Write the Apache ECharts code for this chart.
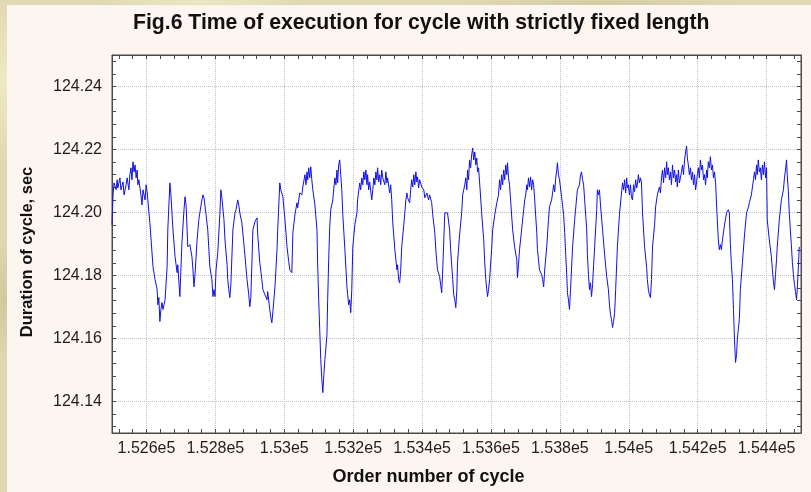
<!DOCTYPE html>
<html>
<head>
<meta charset="utf-8">
<script src="https://cdn.jsdelivr.net/npm/echarts@6/dist/echarts.min.js"></script>
<style>
  html, body { margin: 0; padding: 0; }
  body {
    width: 811px; height: 492px; overflow: hidden; position: relative;
    background-color: #dfd8b2;
    background-image:
      radial-gradient(ellipse 40px 120px at 3px 80px, rgba(255,250,220,0.5), rgba(0,0,0,0) 70%),
      radial-gradient(ellipse 30px 90px at 4px 300px, rgba(190,180,130,0.45), rgba(0,0,0,0) 70%),
      radial-gradient(ellipse 160px 6px at 200px 2px, rgba(250,245,215,0.6), rgba(0,0,0,0) 70%),
      radial-gradient(ellipse 200px 6px at 600px 3px, rgba(195,185,140,0.5), rgba(0,0,0,0) 70%);
  }
  #panel { position: absolute; left: 7px; top: 5px; right: 0; bottom: 0; background: #fdf5ef; }
  #chart { position: absolute; left: 0; top: 0; width: 811px; height: 492px; }
</style>
</head>
<body>
<div id="panel"></div>
<div id="chart"></div>
<script>
// ---- data ----
const cycleNumbers = [
152500,152503,152506,152512,152515,152517,152523,152526,152532,152535,152541,152544,152549,152552,152555,152558,152561,152564,152567,152570,
152573,152575,152578,152584,152587,152590,152596,152599,152602,152604,152610,152619,152625,152631,152633,152636,152639,152642,152645,152648,
152654,152660,152662,152668,152671,152677,152683,152689,152691,152697,152703,152709,152712,152715,152720,152726,152732,152735,152738,152741,
152747,152752,152755,152761,152764,152767,152773,152778,152784,152790,152793,152796,152799,152802,152807,152813,152816,152819,152825,152828,
152834,152836,152839,152842,152845,152851,152857,152860,152865,152868,152871,152877,152883,152889,152892,152897,152900,152903,152909,152915,
152921,152923,152929,152935,152938,152944,152950,152952,152958,152961,152964,152967,152973,152979,152981,152987,152990,152996,153002,153008,
153013,153016,153022,153025,153031,153037,153039,153045,153051,153054,153060,153063,153066,153068,153071,153074,153077,153080,153083,153089,
153095,153097,153100,153103,153106,153109,153112,153115,153118,153124,153126,153129,153132,153135,153141,153144,153147,153150,153153,153155,
153158,153161,153164,153167,153170,153176,153182,153184,153187,153190,153193,153196,153199,153205,153211,153213,153219,153222,153225,153228,
153231,153234,153237,153240,153242,153245,153248,153254,153257,153260,153263,153266,153269,153271,153274,153277,153280,153283,153286,153292,
153295,153298,153300,153306,153309,153312,153315,153321,153327,153329,153332,153335,153338,153341,153347,153350,153353,153356,153358,153364,
153367,153370,153373,153376,153379,153382,153385,153387,153390,153393,153399,153405,153408,153414,153419,153422,153428,153431,153437,153440,
153443,153445,153451,153454,153457,153460,153466,153469,153474,153480,153483,153489,153492,153495,153498,153501,153503,153509,153515,153518,
153524,153527,153530,153532,153535,153538,153541,153544,153547,153550,153553,153556,153559,153561,153564,153567,153573,153579,153582,153585,
153590,153593,153596,153602,153605,153611,153617,153622,153625,153628,153631,153634,153637,153640,153643,153646,153648,153651,153654,153657,
153663,153669,153675,153677,153680,153683,153689,153695,153698,153701,153704,153706,153709,153712,153715,153718,153721,153724,153727,153733,
153735,153741,153747,153750,153753,153756,153762,153767,153770,153776,153779,153782,153785,153788,153791,153793,153796,153799,153805,153811,
153814,153817,153820,153822,153825,153828,153831,153837,153843,153849,153851,153857,153860,153863,153866,153869,153872,153878,153880,153883,
153886,153889,153892,153895,153898,153901,153907,153909,153912,153915,153918,153924,153930,153936,153941,153944,153947,153950,153953,153956,
153959,153962,153967,153973,153979,153982,153985,153988,153991,153994,153996,153999,154002,154005,154008,154011,154014,154017,154020,154023,
154025,154028,154031,154034,154037,154040,154046,154052,154054,154057,154060,154063,154066,154069,154075,154078,154083,154089,154092,154095,
154098,154101,154104,154107,154110,154112,154115,154118,154121,154124,154127,154130,154133,154136,154139,154141,154144,154147,154150,154153,
154156,154159,154162,154165,154168,154170,154173,154176,154179,154182,154185,154188,154191,154194,154197,154199,154202,154205,154208,154211,
154214,154217,154220,154223,154226,154228,154231,154234,154237,154240,154243,154246,154249,154252,154255,154257,154260,154263,154266,154269,
154272,154278,154284,154289,154292,154295,154298,154301,154304,154307,154310,154313,154315,154318,154321,154324,154330,154336,154342,154347,
154350,154356,154359,154362,154365,154368,154371,154373,154376,154379,154382,154385,154388,154391,154394,154397,154400,154402,154408,154414,
154417,154420,154423,154426,154429,154431,154437,154443,154449,154452,154455,154458,154460,154463,154466,154469,154472,154475,154478,154481,
154484,154487,154489,154492,154495
];
const durations = [
124.1961,124.2056,124.2094,124.2072,124.2104,124.2078,124.2110,124.2072,124.2097,124.2056,124.2088,124.2110,124.2072,124.2120,124.2142,124.2104,124.2161,124.2129,124.2151,124.2110,
124.2135,124.2088,124.2104,124.2056,124.2024,124.2072,124.2040,124.2088,124.2066,124.2040,124.1967,124.1828,124.1787,124.1755,124.1707,124.1730,124.1654,124.1692,124.1714,124.1692,
124.1723,124.1828,124.1945,124.2094,124.2056,124.1945,124.1860,124.1809,124.1834,124.1733,124.1904,124.2009,124.2050,124.2024,124.1891,124.1898,124.1860,124.1818,124.1764,124.1803,
124.1913,124.1977,124.1999,124.2040,124.2056,124.2047,124.1993,124.1945,124.1828,124.1787,124.1733,124.1755,124.1733,124.1818,124.1872,124.1993,124.2072,124.2047,124.1977,124.1913,
124.1834,124.1787,124.1755,124.1730,124.1771,124.1945,124.1999,124.2009,124.2040,124.2024,124.1999,124.1967,124.1898,124.1825,124.1787,124.1739,124.1701,124.1730,124.1945,124.1971,
124.1983,124.1929,124.1841,124.1787,124.1755,124.1739,124.1723,124.1749,124.1692,124.1666,124.1650,124.1685,124.1764,124.1882,124.1945,124.2094,124.2072,124.2050,124.1977,124.1891,
124.1844,124.1818,124.1809,124.1936,124.1993,124.2031,124.2015,124.2062,124.2056,124.2081,124.2120,124.2088,124.2129,124.2104,124.2142,124.2110,124.2145,124.2104,124.2072,124.2024,
124.1945,124.1834,124.1723,124.1628,124.1533,124.1470,124.1428,124.1486,124.1533,124.1612,124.1723,124.1850,124.1955,124.2009,124.2040,124.2078,124.2110,124.2088,124.2135,124.2094,
124.2151,124.2167,124.2120,124.2072,124.1993,124.1882,124.1764,124.1739,124.1707,124.1723,124.1682,124.1755,124.1891,124.1961,124.1999,124.2040,124.2094,124.2072,124.2110,124.2088,
124.2129,124.2104,124.2135,124.2088,124.2120,124.2072,124.2097,124.2040,124.2072,124.2110,124.2088,124.2129,124.2104,124.2142,124.2097,124.2120,124.2088,124.2135,124.2110,124.2088,
124.2129,124.2094,124.2110,124.2062,124.2088,124.2040,124.1967,124.1882,124.1818,124.1834,124.1787,124.1777,124.1818,124.1891,124.1961,124.1999,124.2040,124.2062,124.2047,124.2031,
124.2072,124.2104,124.2081,124.2120,124.2088,124.2129,124.2097,124.2113,124.2078,124.2104,124.2081,124.2072,124.2047,124.2062,124.2040,124.2056,124.2031,124.1993,124.1936,124.1882,
124.1841,124.1818,124.1796,124.1771,124.1745,124.1818,124.1999,124.2002,124.1999,124.1945,124.1882,124.1787,124.1739,124.1723,124.1698,124.1755,124.1841,124.1929,124.1999,124.2056,
124.2088,124.2110,124.2072,124.2135,124.2104,124.2167,124.2142,124.2183,124.2205,124.2167,124.2192,124.2151,124.2173,124.2129,124.2142,124.2097,124.1999,124.1913,124.1841,124.1787,
124.1733,124.1755,124.1787,124.1882,124.1945,124.1993,124.2031,124.2056,124.2104,124.2072,124.2120,124.2088,124.2135,124.2104,124.2151,124.2120,124.2158,124.2110,124.2088,124.2040,
124.1945,124.1888,124.1850,124.1793,124.1834,124.1882,124.1945,124.2009,124.2040,124.2056,124.2088,124.2072,124.2110,124.2081,124.2113,124.2072,124.2104,124.2088,124.2040,124.1936,
124.1882,124.1818,124.1803,124.1787,124.1764,124.1818,124.1891,124.1977,124.2018,124.2040,124.2062,124.2088,124.2066,124.2110,124.2135,124.2158,124.2120,124.2104,124.2050,124.1993,
124.1936,124.1866,124.1803,124.1745,124.1723,124.1692,124.1755,124.1891,124.1977,124.2050,124.2072,124.2088,124.2120,124.2129,124.2104,124.2088,124.2040,124.1945,124.1866,124.1803,
124.1755,124.1777,124.1733,124.1771,124.1834,124.1891,124.2009,124.2072,124.2056,124.2072,124.2024,124.1945,124.1866,124.1796,124.1755,124.1707,124.1676,124.1660,124.1635,124.1654,
124.1682,124.1755,124.1891,124.1993,124.2062,124.2094,124.2072,124.2104,124.2062,124.2110,124.2078,124.2088,124.2056,124.2088,124.2047,124.2040,124.2088,124.2066,124.2104,124.2078,
124.2088,124.2120,124.2094,124.2110,124.2094,124.1999,124.1891,124.1825,124.1787,124.1755,124.1739,124.1730,124.1787,124.1891,124.1961,124.2018,124.2056,124.2081,124.2062,124.2110,
124.2135,124.2094,124.2142,124.2110,124.2161,124.2120,124.2142,124.2104,124.2129,124.2088,124.2151,124.2110,124.2135,124.2097,124.2120,124.2081,124.2135,124.2094,124.2110,124.2129,
124.2151,124.2120,124.2167,124.2192,124.2211,124.2173,124.2151,124.2120,124.2142,124.2104,124.2129,124.2088,124.2120,124.2072,124.2097,124.2120,124.2142,124.2110,124.2167,124.2135,
124.2151,124.2104,124.2120,124.2088,124.2135,124.2110,124.2161,124.2142,124.2177,124.2135,124.2151,124.2110,124.2129,124.2094,124.2094,124.1977,124.1913,124.1882,124.1898,124.1882,
124.1913,124.1961,124.1999,124.2009,124.1999,124.1898,124.1834,124.1787,124.1692,124.1596,124.1524,124.1549,124.1596,124.1628,124.1660,124.1755,124.1841,124.1929,124.1999,124.2015,
124.2031,124.2056,124.2081,124.2104,124.2129,124.2104,124.2151,124.2120,124.2167,124.2129,124.2142,124.2104,124.2151,124.2120,124.2161,124.2110,124.2142,124.1977,124.1913,124.1860,
124.1818,124.1780,124.1755,124.1803,124.1850,124.1891,124.1977,124.2040,124.2072,124.2110,124.2135,124.2167,124.2120,124.2072,124.1999,124.1945,124.1898,124.1841,124.1803,124.1771,
124.1749,124.1723,124.1755,124.1818,124.1891
];
const xTickLabels = [152600, 152800, 153000, 153200, 153400, 153600, 153800, 154000, 154200, 154400];
const yTickLabels = [124.14, 124.16, 124.18, 124.20, 124.22, 124.24];
const xRange = [152500, 154500];
const yRange = [124.13, 124.25];

// minor tick positions (every 1/5 of a label step)
const xMinor = [];
for (let v = 152520; v < 154500; v += 40) xMinor.push(v);
const yMinor = [];
for (let k = 0; k < 30; k++) yMinor.push(Math.round((124.132 + k * 0.004) * 1000) / 1000);

const seriesData = cycleNumbers.map((c, i) => [c, durations[i]]);

const frameColor = '#4a4a4a';
const FONT = 'Liberation Sans, Arial, sans-serif';
const labelFont = { fontFamily: FONT, fontSize: 16, color: '#1e1e1e' };

const chart = echarts.init(document.getElementById('chart'), null, { renderer: 'canvas' });
chart.setOption({
  animation: false,
  backgroundColor: 'transparent',
  title: {
    text: 'Fig.6 Time of execution for cycle with strictly fixed length',
    left: 133, top: 13, padding: 0,
    textStyle: { fontFamily: FONT, fontSize: 21.2, fontWeight: 'bold', color: '#111' }
  },
  grid: { left: 112, right: 10, top: 55, bottom: 59, show: true, backgroundColor: '#ffffff', borderColor: frameColor, borderWidth: 1 },
  xAxis: [
    {
      type: 'value', position: 'bottom', min: xRange[0], max: xRange[1],
      name: 'Order number of cycle', nameLocation: 'middle', nameGap: 35,
      nameTextStyle: { fontFamily: FONT, fontSize: 18, fontWeight: 'bold', color: '#111', padding: [0, 56, 0, 0] },
      axisLine: { show: true, onZero: false, lineStyle: { color: frameColor, width: 1 } },
      axisTick: { show: true, inside: true, length: 4, customValues: xMinor, lineStyle: { color: frameColor } },
      axisLabel: Object.assign({ margin: 8, customValues: xTickLabels,
        formatter: v => parseFloat((v / 1e5).toFixed(4)) + 'e5' }, labelFont),
      splitLine: { show: false }
    },
    {
      type: 'value', position: 'bottom', min: xRange[0], max: xRange[1],
      axisLine: { show: false }, axisLabel: { show: false },
      axisTick: { show: false, customValues: xTickLabels },
      splitLine: { show: true, lineStyle: { type: 'dotted', color: '#c2c2c2', width: 1 } }
    },
    {
      type: 'value', position: 'top', min: xRange[0], max: xRange[1],
      axisLine: { show: true, onZero: false, lineStyle: { color: frameColor, width: 1 } },
      axisLabel: { show: false },
      axisTick: { show: true, inside: true, length: 4, customValues: xMinor, lineStyle: { color: frameColor } },
      splitLine: { show: false }
    }
  ],
  yAxis: [
    {
      type: 'value', position: 'left', min: yRange[0], max: yRange[1],
      name: 'Duration of cycle, sec', nameLocation: 'middle', nameGap: 76, nameRotate: 90,
      nameTextStyle: { fontFamily: FONT, fontSize: 16.5, fontWeight: 'bold', color: '#111', padding: [0, 16, 0, 0] },
      axisLine: { show: true, onZero: false, lineStyle: { color: frameColor, width: 1 } },
      axisTick: { show: true, inside: true, length: 4, customValues: yMinor, lineStyle: { color: frameColor } },
      axisLabel: Object.assign({ margin: 10, customValues: yTickLabels, formatter: v => v.toFixed(2) }, labelFont),
      splitLine: { show: false }
    },
    {
      type: 'value', position: 'left', min: yRange[0], max: yRange[1],
      axisLine: { show: false }, axisLabel: { show: false },
      axisTick: { show: false, customValues: yTickLabels },
      splitLine: { show: true, lineStyle: { type: 'dotted', color: '#c2c2c2', width: 1 } }
    },
    {
      type: 'value', position: 'right', min: yRange[0], max: yRange[1],
      axisLine: { show: true, onZero: false, lineStyle: { color: frameColor, width: 1 } },
      axisLabel: { show: false },
      axisTick: { show: true, inside: true, length: 4, customValues: yMinor, lineStyle: { color: frameColor } },
      splitLine: { show: false }
    }
  ],
  series: [{
    type: 'line', xAxisIndex: 0, yAxisIndex: 0,
    data: seriesData,
    showSymbol: false, symbol: 'none', sampling: null,
    lineStyle: { color: '#1010e8', width: 1 },
    z: 5
  }]
});
</script>
</body>
</html>
